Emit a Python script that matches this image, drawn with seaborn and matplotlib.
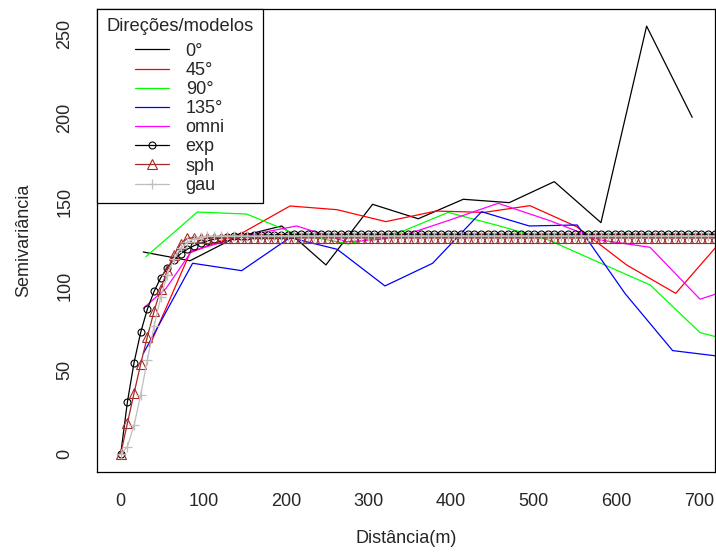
import numpy as np
import matplotlib
matplotlib.use('Agg')
import matplotlib.pyplot as plt
import seaborn as sns

# empirical semivariograms (distance, semivariance) per direction
dist_0 = [27.4, 84, 138.7, 195, 248.5, 305, 360.3, 414.8, 470.5, 525, 581.5, 636.8, 692]
gam_0 = [120.4, 115.2, 129, 135.9, 112.7, 148.8, 140.2, 151.8, 149.8, 162.3, 137.9, 254.9, 200.6]

dist_45 = [34.6, 84, 148, 205, 262, 321, 382, 440, 495.5, 552, 612.6, 672, 730]
gam_45 = [64, 120, 132, 147.8, 145.6, 138.5, 144.8, 144, 148, 135.5, 112.7, 95.8, 128.5]

dist_90 = [30.6, 92.8, 152.5, 210, 275.6, 340, 396.6, 458, 518, 580, 641, 701.5, 760]
gam_90 = [117.6, 144.2, 143, 131.5, 125.2, 132.5, 144, 136, 127.6, 114, 100.8, 72.4, 65]

dist_135 = [27.4, 87.1, 146.5, 205, 262.2, 320, 377.7, 437, 494.7, 552.8, 610.5, 668.3, 725]
gam_135 = [60, 113.7, 109.3, 129, 122, 100.2, 113.7, 144.4, 135.9, 136.5, 95.8, 61.7, 58.3]

dist_omni = [27.4, 55, 86, 150, 213, 273.6, 315, 350, 400, 457, 520, 580, 641, 701.5, 740]
gam_omni = [86.9, 98.8, 121, 130, 135.9, 126.5, 128, 131.5, 139.7, 149.4, 139, 127.6, 123.2, 92.3, 98.5]

# fitted models, evaluated on a regular 100-point distance grid
model_dist = np.linspace(0, 800, 100)
exp_vals = [0, 30.9, 54.5, 72.6, 86.4, 96.9, 105.0, 111.1, 115.8, 119.4, 122.1, 124.2,
            125.8, 127.0, 128.0, 128.7, 129.2, 129.7, 130.0, 130.2, 130.4, 130.5, 130.6,
            130.7, 130.8, 130.8, 130.9] + [131.0] * 73
sph_vals = [0, 18.3, 36.3, 53.7, 70.0, 85.0, 98.4, 109.8, 118.8, 125.2, 128.5] + [129.0] * 89
gau_vals = [0, 4.5, 17.1, 35.4, 56.1, 76.2, 93.5, 106.9, 116.4, 122.6, 126.2, 128.2,
            129.2, 129.7, 129.9] + [130.0] * 85

directions = ['0°', '45°', '90°', '135°', 'omni']
dir_colors = ['black', '#FF0000', '#00FF00', '#0000FF', '#FF00FF']
dir_data = [(dist_0, gam_0), (dist_45, gam_45), (dist_90, gam_90),
            (dist_135, gam_135), (dist_omni, gam_omni)]

sns.set_style('white')
plt.rcParams['font.family'] = ['Liberation Sans', 'DejaVu Sans']
plt.rcParams['font.size'] = 13

fig, ax = plt.subplots(figsize=(7.16, 5.52), dpi=100)
fig.subplots_adjust(left=0.1359, right=0.9986, bottom=0.1455, top=0.9837)

for name, (d, g), col in zip(directions, dir_data, dir_colors):
    sns.lineplot(x=d, y=g, color=col, linewidth=0.9, label=name, ax=ax,
                 sort=False, estimator=None)

sns.lineplot(x=model_dist, y=exp_vals, color='black', linewidth=0.9, marker='o',
             markersize=5, markerfacecolor='none', markeredgecolor='black',
             markeredgewidth=0.8, label='exp', ax=ax, sort=False, estimator=None)
sns.lineplot(x=model_dist, y=sph_vals, color='#A52A2A', linewidth=0.9, marker='^',
             markersize=7.5, markerfacecolor='none', markeredgecolor='#A52A2A',
             markeredgewidth=0.8, label='sph', ax=ax, sort=False, estimator=None)
sns.lineplot(x=model_dist, y=gau_vals, color='#BEBEBE', linewidth=0.9, marker='+',
             markersize=7, markeredgecolor='#BEBEBE', markeredgewidth=0.9,
             label='gau', ax=ax, sort=False, estimator=None)

ax.set_xlim(-28.3, 719.6)
ax.set_ylim(-10.4, 265.1)
ax.set_xticks([0, 100, 200, 300, 400, 500, 600, 700])
ax.set_yticks([0, 50, 100, 150, 200, 250])
ax.tick_params(axis='x', direction='out', length=6.5, width=0.9, color='black', pad=8.9)
ax.tick_params(axis='y', direction='out', length=7, width=0.9, color='black', pad=10.3,
               labelrotation=90)
for lab in ax.get_yticklabels():
    lab.set_va('center')
for sp in ax.spines.values():
    sp.set_color('black')
    sp.set_linewidth(0.9)

ax.set_xlabel('Distância(m)')
ax.set_ylabel('Semivariância')
ax.xaxis.set_label_coords(0.5, -0.1253)
ax.yaxis.set_label_coords(-0.1057, 0.5)

leg = ax.legend(loc='upper left', bbox_to_anchor=(0, 1), borderaxespad=0,
                title='Direções/modelos', fontsize=13, title_fontsize=13.2,
                frameon=True, fancybox=False, edgecolor='black', framealpha=1,
                labelspacing=0.12, handlelength=1.9, handletextpad=0.9,
                alignment='center', borderpad=0.5, numpoints=1)
leg.get_frame().set_linewidth(0.9)
# a little more room between the title and the entries, as in the original
leg._legend_box.sep = 5.5

fig.savefig('out.png', dpi=100)
